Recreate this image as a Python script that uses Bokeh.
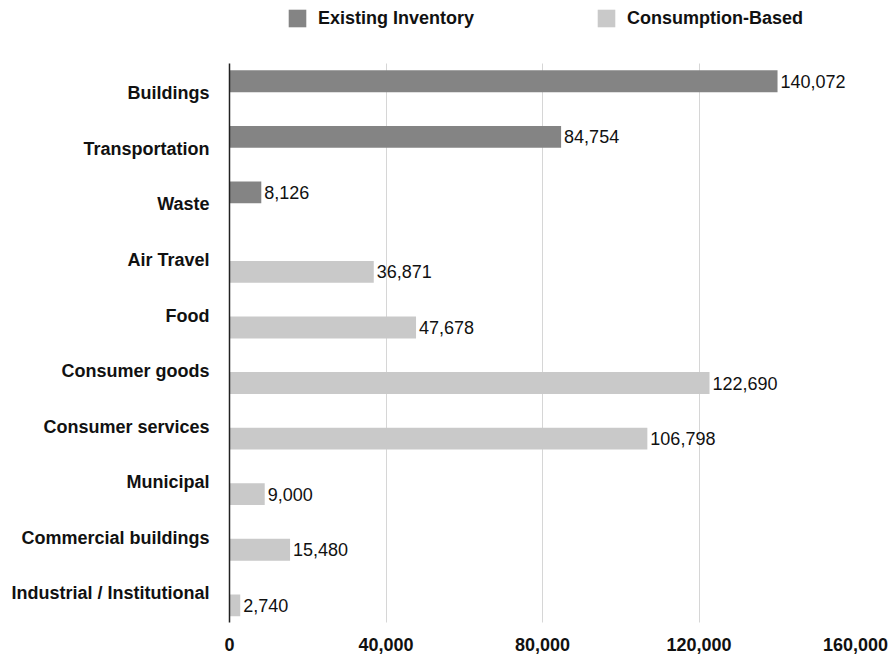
from bokeh.plotting import figure
from bokeh.models import (ColumnDataSource, FactorRange, FixedTicker, NumeralTickFormatter,
                          Legend, LegendItem, Range1d)
from bokeh.transform import dodge
from bokeh.core.properties import value
from bokeh.embed import file_html
from bokeh.resources import INLINE

categories = ["Buildings", "Transportation", "Waste", "Air Travel", "Food",
              "Consumer goods", "Consumer services", "Municipal",
              "Commercial buildings", "Industrial / Institutional"]
existing_inventory = [140072, 84754, 8126, 0, 0, 0, 0, 0, 0, 0]
consumption_based = [0, 0, 0, 36871, 47678, 122690, 106798, 9000, 15480, 2740]
series_names = ["Existing Inventory", "Consumption-Based"]
x_ticks = [0, 40000, 80000, 120000, 160000]

DARK = "#848484"
LIGHT = "#c9c9c9"
FONT = "Liberation Sans"
W, H = 894, 656
B_LEFT, B_RIGHT, B_TOP, B_BOTTOM = 229, 39, 6, 32
FRAME_H = H - B_TOP - B_BOTTOM
PAD = 0.06

# an empty top row hosts the legend (inside the frame, above the bars)
factors = list(reversed(categories)) + [""]
y_range = FactorRange(factors=factors, range_padding=PAD, range_padding_units="absolute")
n = len(categories)
plot_bounds = (-PAD / 2, n + PAD / 2)

p = figure(y_range=y_range, x_range=Range1d(0, 160000),
           width=W, height=H,
           output_backend="svg", toolbar_location=None,
           min_border_left=B_LEFT, min_border_right=B_RIGHT,
           min_border_top=B_TOP, min_border_bottom=B_BOTTOM,
           outline_line_color=None, background_fill_color="white", border_fill_color="white")


def src(vals):
    cats = [c for c, v in zip(categories, vals) if v > 0]
    vs = [v for v in vals if v > 0]
    return ColumnDataSource(dict(cat=cats, val=vs, lab=[f"{v:,}" for v in vs]))


s_exist = src(existing_inventory)
s_cons = src(consumption_based)

BAR_H = 0.394
OFF = 0.215
r1 = p.hbar(y=dodge("cat", OFF, range=p.y_range), right="val", left=0, height=BAR_H,
            source=s_exist, fill_color=DARK, line_color=None)
r2 = p.hbar(y=dodge("cat", -OFF, range=p.y_range), right="val", left=0, height=BAR_H,
            source=s_cons, fill_color=LIGHT, line_color=None)

for s, off in ((s_exist, OFF), (s_cons, -OFF)):
    p.text(x="val", y=dodge("cat", off, range=p.y_range), text="lab", source=s,
           x_offset=3, text_baseline="middle", text_align="left",
           text_font=value(FONT), text_font_size="18px", text_color="#111111")

# axes
p.xaxis.ticker = FixedTicker(ticks=x_ticks)
p.xaxis.formatter = NumeralTickFormatter(format="0,0")
p.xaxis.axis_line_color = None
p.xaxis.major_tick_line_color = None
p.xaxis.minor_tick_line_color = None
p.xaxis.major_tick_out = 0
p.xaxis.major_label_text_font = FONT
p.xaxis.major_label_text_font_style = "bold"
p.xaxis.major_label_text_font_size = "18px"
p.xaxis.major_label_text_color = "#111111"
p.xaxis.major_label_standoff = 13

p.yaxis.bounds = plot_bounds
p.yaxis.axis_line_color = "#222222"
p.yaxis.axis_line_width = 1.5
p.yaxis.major_tick_line_color = None
p.yaxis.minor_tick_line_color = None
p.yaxis.major_tick_out = 0
p.yaxis.major_label_text_font = FONT
p.yaxis.major_label_text_font_style = "bold"
p.yaxis.major_label_text_font_size = "18px"
p.yaxis.major_label_text_color = "#111111"
p.yaxis.major_label_standoff = 20

p.xgrid.ticker = FixedTicker(ticks=x_ticks[1:])
p.xgrid.cross_bounds = plot_bounds
p.xgrid.grid_line_color = "#d6d6d6"
p.xgrid.grid_line_width = 1
p.ygrid.grid_line_color = None

legend = Legend(items=[LegendItem(label=series_names[0], renderers=[r1]),
                       LegendItem(label=series_names[1], renderers=[r2])],
                orientation="horizontal", location=(57, FRAME_H - 23),
                glyph_width=22, glyph_height=22, label_standoff=10, spacing=121,
                label_text_font=FONT, label_text_font_style="bold",
                label_text_font_size="18px", label_text_color="#111111",
                label_height=22, padding=0, margin=0,
                border_line_color=None, background_fill_alpha=0)
p.add_layout(legend, "center")

open("out.html", "w").write(file_html(p, INLINE))
